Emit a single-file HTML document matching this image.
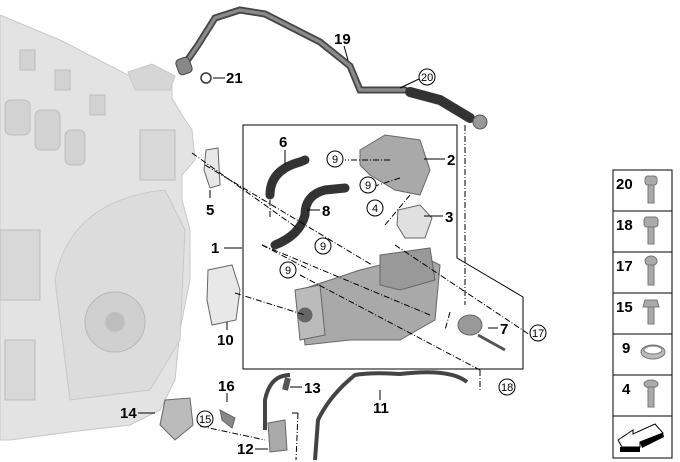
<!DOCTYPE html>
<html><head><meta charset="utf-8"><style>
html,body{margin:0;padding:0;background:#fff;width:680px;height:462px;overflow:hidden}
svg{display:block}
text{font-family:"Liberation Sans",sans-serif;font-weight:bold;fill:#000}
.n{font-size:15px}
.c{font-size:11px;font-weight:normal}
</style></head><body>
<svg width="680" height="462" viewBox="0 0 680 462" xmlns="http://www.w3.org/2000/svg">
<!-- engine block -->
<g fill="#e3e3e3" stroke="#c8c8c8" stroke-width="1">
<polygon points="0,15 60,40 128,75 150,66 172,78 172,98 182,115 192,130 195,160 182,175 182,200 190,230 190,280 180,330 175,380 160,410 130,425 70,432 10,440 0,440"/>
<polygon points="128,72 152,64 175,76 170,90 135,90" fill="#d6d6d6"/>
<g fill="#d2d2d2" stroke="#bdbdbd">
<rect x="5" y="100" width="25" height="35" rx="6"/>
<rect x="35" y="110" width="25" height="40" rx="6"/>
<rect x="65" y="130" width="20" height="35" rx="6"/>
<rect x="20" y="50" width="15" height="20"/>
<rect x="55" y="70" width="15" height="20"/>
<rect x="90" y="95" width="15" height="20"/>
<rect x="0" y="230" width="40" height="70" fill="#d8d8d8"/>
<rect x="5" y="340" width="30" height="60" fill="#d8d8d8"/>
<rect x="140" y="130" width="35" height="50" fill="#d8d8d8"/>
</g>
<path d="M55,280 Q70,200 165,190 L185,230 L180,340 L150,390 L70,400 Z" fill="#dcdcdc"/>
<circle cx="115" cy="322" r="30" fill="#d0d0d0" stroke="#b8b8b8"/>
<circle cx="115" cy="322" r="10" fill="#bdbdbd"/>
</g>
<!-- hose 19 -->
<path d="M182,68 L198,45 L215,18 L240,10 L265,14 L320,42 L350,66 L360,90 L405,90" fill="none" stroke="#444" stroke-width="7" stroke-linecap="round"/>
<path d="M182,68 L198,45 L215,18 L240,10 L265,14 L320,42 L350,66 L360,90 L405,90" fill="none" stroke="#8a8a8a" stroke-width="3.5" stroke-linecap="round"/>
<rect x="177" y="58" width="14" height="16" rx="4" fill="#888" stroke="#444" transform="rotate(-20 184 66)"/>
<path d="M410,92 L440,100 L470,118" fill="none" stroke="#333" stroke-width="10" stroke-linecap="round"/>
<circle cx="480" cy="122" r="7" fill="#999" stroke="#555"/>
<circle cx="206" cy="78" r="5" fill="none" stroke="#333" stroke-width="1.5"/>
<line x1="213" y1="78" x2="225" y2="78" stroke="#000"/>
<text class="n" x="226" y="83">21</text>
<line x1="344" y1="46" x2="348" y2="60" stroke="#000"/>
<text class="n" x="334" y="44">19</text>
<circle cx="427" cy="77" r="8" fill="#fff" stroke="#000"/><text class="c" x="421" y="81">20</text>
<line x1="419" y1="79" x2="400" y2="88" stroke="#000"/>
<!-- main box -->
<path d="M243,125 L457,125 L457,258 L523,297 L523,369 L243,369 Z" fill="none" stroke="#000" stroke-width="1"/>
<line x1="465" y1="125" x2="465" y2="305" stroke="#000" stroke-dasharray="6,2,1,2"/>
<!-- parts -->
<path d="M270,195 Q270,170 300,162 L305,160" fill="none" stroke="#333" stroke-width="9" stroke-linecap="round"/>
<path d="M275,245 Q300,235 305,215 Q305,195 325,190 L345,188" fill="none" stroke="#333" stroke-width="9" stroke-linecap="round"/>
<g fill="#a9a9a9" stroke="#666">
<polygon points="360,150 385,135 420,140 430,170 420,195 395,190 370,175 360,165"/>
<polygon points="398,210 420,205 432,218 425,238 405,238 397,225" fill="#e0e0e0"/>
<polygon points="300,290 360,270 420,255 440,265 435,320 400,340 350,340 305,345"/>
<polygon points="380,255 430,248 435,280 400,290 380,285" fill="#999"/>
<polygon points="295,290 320,285 325,335 300,340" fill="#bbb"/>
<circle cx="305" cy="315" r="7" fill="#666"/>
<ellipse cx="470" cy="325" rx="12" ry="10" fill="#999"/>
<polygon points="208,270 232,265 240,290 236,320 212,325 207,300" fill="#e8e8e8"/>
<polygon points="206,150 218,148 220,185 210,188 204,170" fill="#e8e8e8"/>
<polygon points="165,400 190,398 193,425 175,440 160,425" fill="#bbb"/>
<polygon points="268,423 285,420 287,450 270,452" fill="#aaa"/>
<polygon points="220,410 235,418 232,428 222,420" fill="#888"/>
</g>
<line x1="478" y1="335" x2="505" y2="350" stroke="#555" stroke-width="3"/>
<!-- lower hoses -->
<path d="M290,375 Q270,375 265,400 L265,430" fill="none" stroke="#444" stroke-width="4"/>
<line x1="288" y1="378" x2="285" y2="390" stroke="#555" stroke-width="6"/>
<path d="M315,460 L318,420 Q330,395 355,375 Q370,372 400,374 Q450,368 467,382" fill="none" stroke="#444" stroke-width="4"/>
<!-- dash-dot leaders -->
<g stroke="#000" stroke-dasharray="6,2,1,2" fill="none" stroke-width="1">
<line x1="192" y1="153" x2="300" y2="230"/>
<line x1="205" y1="165" x2="372" y2="265"/>
<line x1="270" y1="200" x2="270" y2="218"/>
<line x1="262" y1="245" x2="310" y2="270"/>
<line x1="262" y1="245" x2="430" y2="315"/>
<line x1="235" y1="293" x2="305" y2="315"/>
<line x1="300" y1="275" x2="480" y2="370"/>
<line x1="480" y1="370" x2="480" y2="392"/>
<line x1="395" y1="245" x2="530" y2="335"/>
<line x1="410" y1="195" x2="385" y2="225"/>
<line x1="390" y1="160" x2="345" y2="160"/>
<line x1="400" y1="178" x2="375" y2="186"/>
<line x1="450" y1="312" x2="445" y2="330"/>
<line x1="200" y1="426" x2="265" y2="440"/>
<line x1="292" y1="413" x2="298" y2="413"/>
<line x1="298" y1="413" x2="296" y2="460"/>
</g>
<g stroke="#000" stroke-width="1">
<line x1="424" y1="159" x2="445" y2="159"/>
<line x1="424" y1="216" x2="443" y2="216"/>
<line x1="224" y1="248" x2="242" y2="248"/>
<line x1="285" y1="150" x2="285" y2="165"/>
<line x1="307" y1="210" x2="320" y2="210"/>
<line x1="210" y1="190" x2="210" y2="198"/>
<line x1="227" y1="322" x2="227" y2="330"/>
<line x1="488" y1="328" x2="498" y2="328"/>
<line x1="380" y1="400" x2="380" y2="390"/>
<line x1="290" y1="387" x2="302" y2="387"/>
<line x1="227" y1="393" x2="227" y2="402"/>
<line x1="138" y1="413" x2="155" y2="413"/>
<line x1="255" y1="449" x2="268" y2="449"/>
</g>
<text class="n" x="447" y="165">2</text>
<text class="n" x="445" y="222">3</text>
<text class="n" x="279" y="147">6</text>
<text class="n" x="322" y="216">8</text>
<text class="n" x="206" y="215">5</text>
<text class="n" x="211" y="253">1</text>
<text class="n" x="217" y="345">10</text>
<text class="n" x="500" y="334">7</text>
<text class="n" x="373" y="413">11</text>
<text class="n" x="304" y="393">13</text>
<text class="n" x="218" y="391">16</text>
<text class="n" x="120" y="418">14</text>
<text class="n" x="237" y="454">12</text>
<g fill="#fff" stroke="#000">
<circle cx="335" cy="159" r="8"/><circle cx="368" cy="185" r="8"/>
<circle cx="375" cy="208" r="8"/><circle cx="323" cy="246" r="8"/>
<circle cx="288" cy="270" r="8"/><circle cx="538" cy="333" r="8"/>
<circle cx="507" cy="387" r="8"/><circle cx="205" cy="419" r="8"/>
</g>
<text class="c" x="332" y="163">9</text><text class="c" x="365" y="189">9</text>
<text class="c" x="372" y="212">4</text><text class="c" x="320" y="250">9</text>
<text class="c" x="285" y="274">9</text><text class="c" x="532" y="337">17</text>
<text class="c" x="501" y="391">18</text><text class="c" x="199" y="423">15</text>
<!-- legend -->
<g stroke="#000" fill="#fff" stroke-width="1">
<rect x="613" y="170" width="59" height="41"/>
<rect x="613" y="211" width="59" height="41"/>
<rect x="613" y="252" width="59" height="41"/>
<rect x="613" y="293" width="59" height="41"/>
<rect x="613" y="334" width="59" height="41"/>
<rect x="613" y="375" width="59" height="41"/>
<rect x="613" y="416" width="59" height="42"/>
</g>
<text class="n" x="616" y="189">20</text>
<text class="n" x="616" y="230">18</text>
<text class="n" x="616" y="271">17</text>
<text class="n" x="616" y="312">15</text>
<text class="n" x="622" y="353">9</text>
<text class="n" x="622" y="394">4</text>
<g fill="#aaa" stroke="#777">
<rect x="645" y="176" width="12" height="9" rx="3"/><rect x="648" y="185" width="6" height="18"/>
<rect x="644" y="217" width="14" height="10" rx="3"/><rect x="648" y="227" width="6" height="17"/>
<ellipse cx="651" cy="261" rx="6" ry="5"/><rect x="648" y="265" width="6" height="20"/>
<polygon points="645,300 657,300 659,307 643,307"/><rect x="648" y="307" width="6" height="17"/>
<ellipse cx="653" cy="352" rx="12" ry="7" fill="#bbb"/><ellipse cx="653" cy="350" rx="9" ry="4" fill="#fff"/>
<ellipse cx="651" cy="384" rx="7" ry="4"/><rect x="648" y="387" width="6" height="20"/>
</g>
<polygon points="618,440 633,430 633,434 655,424 663,433 640,442 640,447 622,447" fill="#fff" stroke="#000"/>
<polygon points="620,447 640,447 640,452 620,452" fill="#000"/>
<polygon points="640,442 663,433 664,437 642,448" fill="#000"/>
</svg>
</body></html>
